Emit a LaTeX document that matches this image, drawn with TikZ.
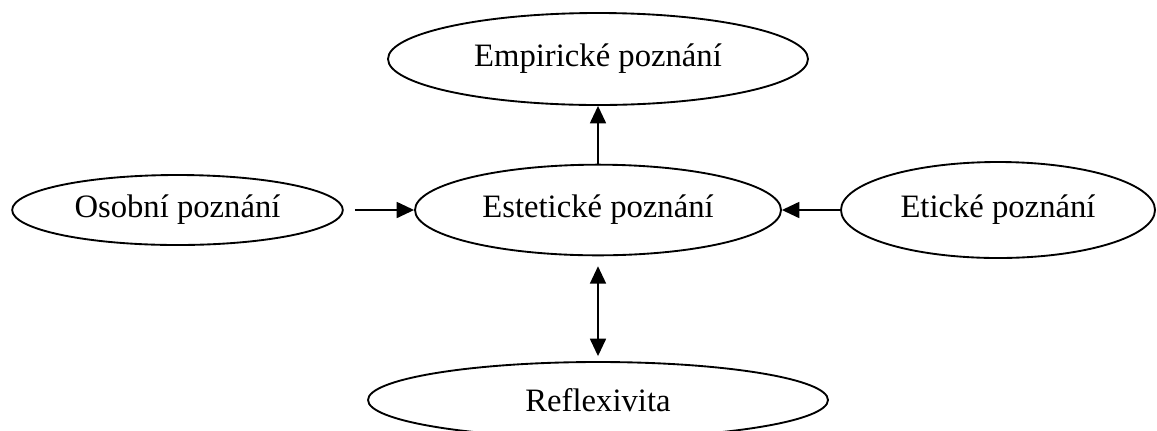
\documentclass[tikz,border=0pt]{standalone}
\usepackage{fontspec}
\setmainfont{Liberation Serif}
\usetikzlibrary{shapes.geometric,arrows.meta}

\begin{document}
\begin{tikzpicture}[x=0.75pt,y=-0.75pt,
    oval/.style={draw,ellipse,line width=1.4pt,inner sep=0pt,font=\fontsize{24.5}{28}\selectfont},
    tip/.style={-{Triangle[length=13pt,width=12pt]},line width=1.2pt},
    twotip/.style={{Triangle[length=13pt,width=12pt]}-{Triangle[length=13pt,width=12pt]},line width=1.2pt}]

        \useasboundingbox (0,0) rectangle (1157,430);
        \clip (0,0) rectangle (1157,430);

        \node[oval,minimum width=315pt,minimum height=69pt] (empir) at (598,59) {Empirické poznání};
        \node[oval,minimum width=248pt,minimum height=52.5pt] (osob) at (177.5,210) {Osobní poznání};
        \node[oval,minimum width=274.5pt,minimum height=68pt] (estet) at (598,210) {Estetické poznání};
        \node[oval,minimum width=235.5pt,minimum height=72pt] (etic) at (998,210) {Etické poznání};
        \node[oval,minimum width=345pt,minimum height=57pt] (reflex) at (598,400) {Reflexivita};

        \draw[tip] (estet.north) -- (empir.south);
        \draw[tip] ([xshift=8.25pt]osob.east) -- (estet.west);
        \draw[tip] (etic.west) -- (estet.east);
        \draw[twotip,shorten <=7.5pt,shorten >=3.75pt] (estet.south) -- (reflex.north);
    \end{tikzpicture}
\end{document}
